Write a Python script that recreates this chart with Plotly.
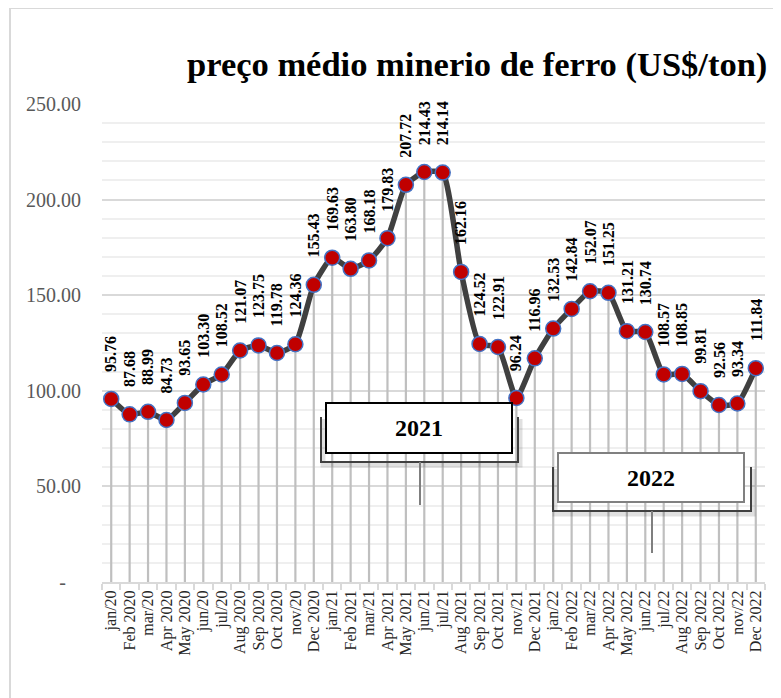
import plotly.graph_objects as go

months = ["jan/20", "Feb 2020", "mar/20", "Apr 2020", "May 2020", "jun/20", "jul/20",
          "Aug 2020", "Sep 2020", "Oct 2020", "nov/20", "Dec 2020",
          "jan/21", "Feb 2021", "mar/21", "Apr 2021", "May 2021", "jun/21", "jul/21",
          "Aug 2021", "Sep 2021", "Oct 2021", "nov/21", "Dec 2021",
          "jan/22", "Feb 2022", "mar/22", "Apr 2022", "May 2022", "jun/22", "jul/22",
          "Aug 2022", "Sep 2022", "Oct 2022", "nov/22", "Dec 2022"]
prices = [95.76, 87.68, 88.99, 84.73, 93.65, 103.30, 108.52, 121.07, 123.75, 119.78, 124.36, 155.43,
          169.63, 163.80, 168.18, 179.83, 207.72, 214.43, 214.14, 162.16, 124.52, 122.91, 96.24, 116.96,
          132.53, 142.84, 152.07, 151.25, 131.21, 130.74, 108.57, 108.85, 99.81, 92.56, 93.34, 111.84]
y_ticks = [0, 50, 100, 150, 200, 250]
y_ticktext = ["-\u00a0\u00a0\u00a0", "50.00", "100.00", "150.00", "200.00", "250.00"]
title = "preço médio minerio de ferro (US$/ton)"

OFF = 8  # page body margin
W, H = 781 - OFF, 698 - OFF
L, R, T, B = 102 - OFF, 16, 104 - OFF, 116
pw, ph = W - L - R, H - T - B

def px(xp):
    return (xp - OFF - L) / pw

def py(yp):
    return (H - B - (yp - OFF)) / ph

xs = list(range(len(prices)))
FONT = "Liberation Serif, Times New Roman, serif"

dx, dy = [], []
for x, v in zip(xs, prices):
    dx += [x, x, None]
    dy += [0, v, None]

fig = go.Figure()
fig.add_trace(go.Scatter(x=dx, y=dy, mode="lines", line=dict(color="#BFBFBF", width=2.2),
                         hoverinfo="skip", showlegend=False))
fig.add_trace(go.Scatter(x=xs, y=prices, mode="lines+markers",
                         line=dict(color="#404040", width=5.5, shape="spline", smoothing=0.5),
                         marker=dict(size=15, color="#C00000", line=dict(color="#4472C4", width=1.5)),
                         showlegend=False))

for x, v in zip(xs, prices):
    fig.add_annotation(x=x, y=v, text=f"{v:.2f}", textangle=-90, showarrow=False,
                       xanchor="center", yanchor="bottom", yshift=25,
                       font=dict(family=FONT, size=16, color="#000000", weight="bold"))

fig.add_annotation(xref="paper", yref="paper", x=px(477), y=py(64), text=f"<b>{title}</b>",
                   showarrow=False, xanchor="center", yanchor="middle",
                   font=dict(family=FONT, size=34.5, color="#000000"))

shapes = []
shapes.append(dict(type="rect", xref="paper", yref="paper", x0=px(10), x1=px(800), y0=py(720), y1=py(8),
                   line=dict(color="#D9D9D9", width=2), fillcolor="rgba(0,0,0,0)", layer="below"))

def bracket(x0, x1, ytop, ybot, stem_x, stem_bot):
    shapes.append(dict(type="path", xref="paper", yref="paper",
                       path=f"M {px(x0+2)} {py(ytop+2)} L {px(x0+2)} {py(ybot+3)} L {px(x1+2)} {py(ybot+3)} L {px(x1+2)} {py(ytop+2)}",
                       line=dict(color="rgba(0,0,0,0.12)", width=5)))
    shapes.append(dict(type="path", xref="paper", yref="paper",
                       path=f"M {px(x0)} {py(ytop)} L {px(x0)} {py(ybot)} L {px(x1)} {py(ybot)} L {px(x1)} {py(ytop)}",
                       line=dict(color="#404040", width=2)))
    shapes.append(dict(type="line", xref="paper", yref="paper", x0=px(stem_x), x1=px(stem_x),
                       y0=py(ybot), y1=py(stem_bot), line=dict(color="#7F7F7F", width=2)))

bracket(321, 518, 417, 462, 420, 505)
bracket(553, 751, 467, 511, 652, 553)

boxes = [("2021", 326, 512, 403, 453, "#000000"), ("2022", 558, 744, 453, 502, "#808080")]
for label, bx0, bx1, by0, by1, col in boxes:
    shapes.append(dict(type="rect", xref="paper", yref="paper", x0=px(bx0), x1=px(bx1),
                       y0=py(by1), y1=py(by0), line=dict(color=col, width=2), fillcolor="#FFFFFF"))
    fig.add_annotation(xref="paper", yref="paper", x=px((bx0 + bx1) / 2), y=py((by0 + by1) / 2),
                       text=f"<b>{label}</b>", showarrow=False, xanchor="center", yanchor="middle",
                       font=dict(family=FONT, size=24, color="#000000"))

fig.update_layout(
    width=W, height=H, margin=dict(l=L, r=R, t=T, b=B),
    paper_bgcolor="#FFFFFF", plot_bgcolor="#FFFFFF",
    shapes=shapes, showlegend=False,
    xaxis=dict(range=[-0.5, len(prices) - 0.5], tickvals=xs, ticktext=months, tickangle=-90,
               showgrid=False, zeroline=False, showline=True, linecolor="#D9D9D9", linewidth=2,
               ticks="", tickfont=dict(family=FONT, size=16, color="#262626"),
               minor=dict(tick0=-0.5, dtick=1, ticks="outside", ticklen=6, tickcolor="#D9D9D9",
                          tickwidth=2, showgrid=False)),
    yaxis=dict(range=[0, 250], tickvals=y_ticks, ticktext=y_ticktext, showgrid=True,
               gridcolor="#D9D9D9", gridwidth=2, zeroline=False, showline=False, ticks="",
               tickfont=dict(family=FONT, size=20, color="#595959"), ticklabelstandoff=20,
               minor=dict(dtick=10, showgrid=True, gridcolor="#EFEFEF", gridwidth=2)),
)

fig.write_html("out.html")
